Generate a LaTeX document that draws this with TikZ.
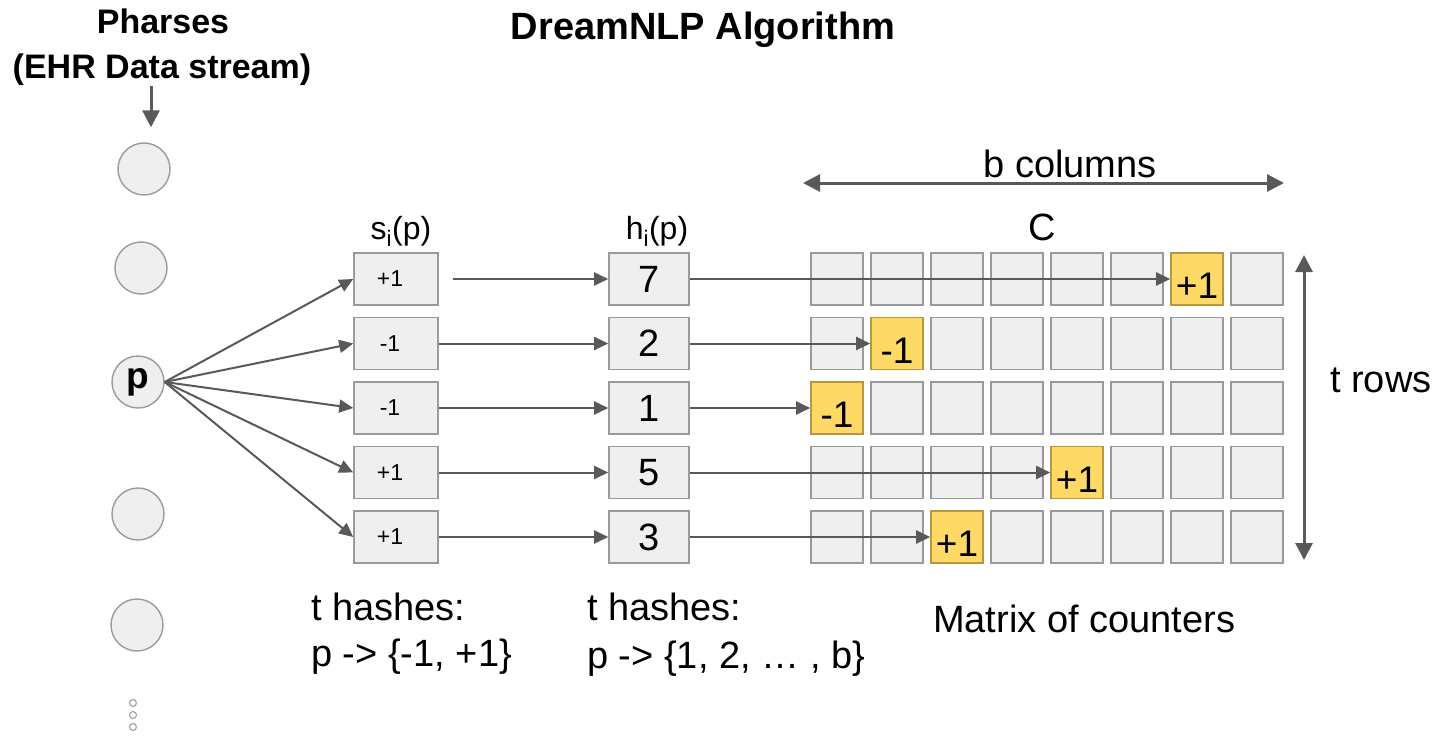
\documentclass[tikz,border=0pt]{standalone}
\usepackage{fontspec}
\setmainfont{Liberation Sans}
\usetikzlibrary{arrows.meta}

\definecolor{cellgray}{HTML}{EFEFEF}
\definecolor{cellline}{HTML}{9A9A9A}
\definecolor{hitfill}{HTML}{FFD966}
\definecolor{hitline}{HTML}{B8983E}
\definecolor{arrowgray}{HTML}{595959}

\tikzset{
  txt/.style={inner sep=0pt, font=\fontsize{38}{46}\selectfont},
  headtxt/.style={inner sep=0pt, font=\fontsize{34}{45}\selectfont\bfseries},
  incirc/.style={draw=cellline, fill=cellgray, line width=1.4pt, circle, minimum size=52pt, inner sep=0pt},
  smalldot/.style={draw=cellline, line width=1pt, circle, minimum size=7pt, inner sep=0pt},
  sbox/.style={draw=cellline, fill=cellgray, line width=1.6pt, minimum width=84pt, minimum height=52pt, inner sep=0pt, font=\fontsize{23}{27}\selectfont},
  hbox/.style={draw=cellline, fill=cellgray, line width=1.6pt, minimum width=80pt, minimum height=52pt, inner sep=0pt, font=\fontsize{38}{46}\selectfont},
  cell/.style={draw=cellline, fill=cellgray, line width=1.6pt, minimum width=52pt, minimum height=52pt, inner sep=0pt},
  hitcell/.style={cell, draw=hitline, fill=hitfill, font=\fontsize{37}{44}\selectfont},
  arr/.style={draw=arrowgray, line width=2pt, -{Triangle[length=14pt,width=13pt]}},
  bigarr/.style={draw=arrowgray, line width=3pt, -{Triangle[length=17pt,width=17pt]}},
  dblarr/.style={draw=arrowgray, line width=3pt, {Triangle[length=17pt,width=17pt]}-{Triangle[length=17pt,width=17pt]}}
}

\begin{document}
\begin{tikzpicture}[x=1pt, y=-1pt]
  \useasboundingbox (0,0) rectangle (1448,736);

  % titles
  \node[headtxt, anchor=base] (hdr_1) at (163,33) {Pharses};
  \node[headtxt, anchor=base] (hdr_2) at (162,78) {(EHR Data stream)};
  \node[txt, font=\fontsize{38}{46}\selectfont\bfseries, anchor=base] (title) at (703,39) {DreamNLP Algorithm};

  % draw input stream
  \foreach \k/\cx/\cy in {1/144/169, 2/141/268, 4/138/514, 5/137/625}
  {
    \node[incirc] (in_\k) at (\cx,\cy) {};
  }
  \node[incirc, font=\fontsize{37}{42}\selectfont\bfseries] (p) at (138,382) {p};
  \foreach \d in {1,...,3}
  {
    \node[smalldot] (dot_\d) at (133,{691+\d*12}) {};
  }
  \coordinate (feed) at (151,86);
  \draw[bigarr, shorten >=15pt] (feed) -- (feed |- in_1.north);

  % column headers
  \node[txt, font=\fontsize{32}{38}\selectfont, anchor=base] (s_head) at (401,239) {s\textsubscript{i}(p)};
  \node[txt, font=\fontsize{32}{38}\selectfont, anchor=base] (h_head) at (657,239) {h\textsubscript{i}(p)};
  \node[txt, anchor=base] (c_head) at (1042,240) {C};

  % draw rows: signs, hashes, counters
  \foreach \r/\h/\s in {1/7/+1, 2/2/-1, 3/1/-1, 4/5/+1, 5/3/+1}
  {
    \pgfmathsetmacro\yy{279+(\r-1)*64.5}
    \node[sbox] (s_\r) at (396,\yy) {\hspace*{-12pt}\s};
    \node[hbox] (h_\r) at (649,\yy) {\h};
    \foreach \c in {1,...,8}
    {
      \ifnum\c=\h\relax
        \node[hitcell] (c_\r_\c) at ({837+(\c-1)*60},\yy) {\raisebox{-7pt}[\height][0pt]{\s}};
      \else
        \node[cell] (c_\r_\c) at ({837+(\c-1)*60},\yy) {};
      \fi
    }
    \draw[arr] (p.east) -- (s_\r.west);
    \draw[arr] (h_\r.east) -- (c_\r_\h.west);
  }

  % sign to hash edges
  \draw[arr, shorten <=14pt] (s_1.east) -- (h_1.west);
  \foreach \r in {2,...,5}
  {
    \draw[arr] (s_\r.east) -- (h_\r.west);
  }

  % matrix size
  \coordinate (bcol_l) at (803,183);
  \coordinate (bcol_r) at (1284,183);
  \draw[dblarr] (bcol_l) -- (bcol_r);
  \node[txt, anchor=base] (bcol) at (1070,177) {b columns};
  \coordinate (trow_t) at (1304,255);
  \coordinate (trow_b) at (1304,560);
  \draw[dblarr] (trow_t) -- (trow_b);
  \node[txt, anchor=base west] (trow) at (1330,392) {t rows};

  % captions
  \node[txt, anchor=base west] (cap_s1) at (311,620) {t hashes:};
  \node[txt, anchor=base west] (cap_s2) at (311,666) {p -> \{-1, +1\}};
  \node[txt, anchor=base west] (cap_h1) at (587,620) {t hashes:};
  \node[txt, anchor=base west] (cap_h2) at (587,668) {p -> \{1, 2, … , b\}};
  \node[txt, anchor=base west] (cap_c) at (933,632) {Matrix of counters};

\end{tikzpicture}
\end{document}
